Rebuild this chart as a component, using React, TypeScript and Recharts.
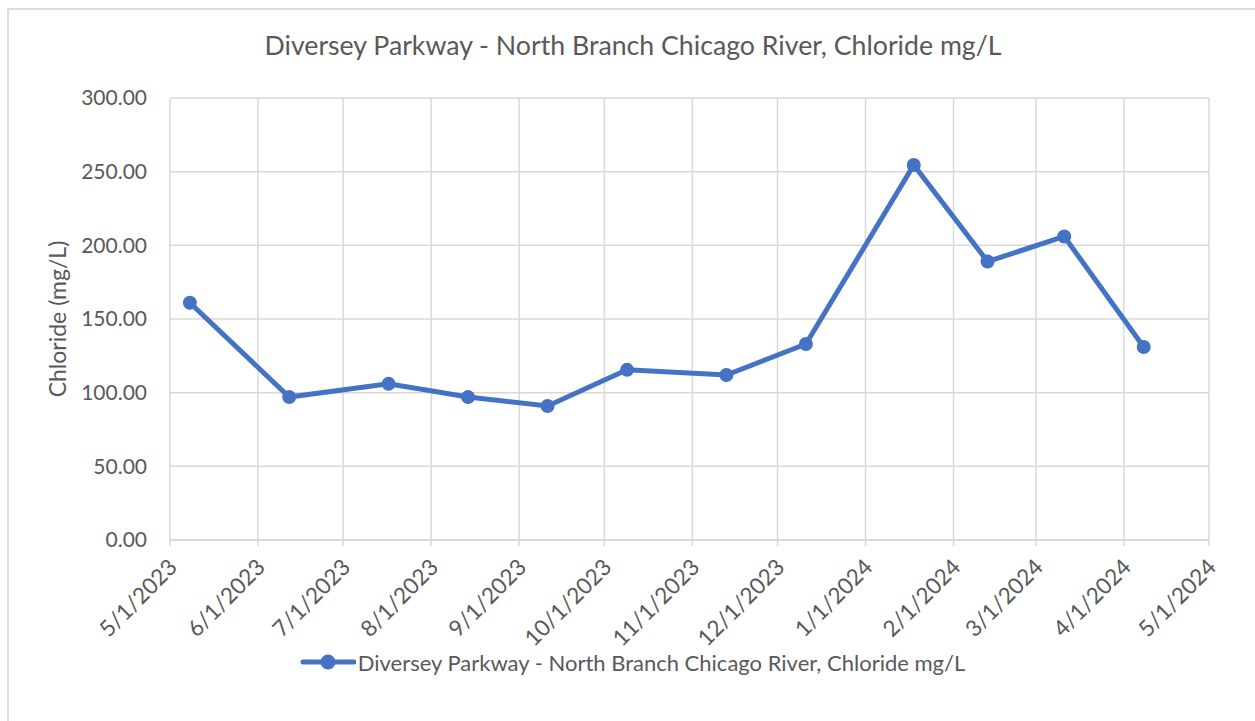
import { LineChart, Line, XAxis, YAxis, CartesianGrid, Legend } from 'recharts'

const title = 'Diversey Parkway - North Branch Chicago River, Chloride mg/L'
const yLabel = 'Chloride (mg/L)'

// sample dates and chloride values
const sampleDates = [
  '2023-05-08', '2023-06-12', '2023-07-17', '2023-08-14', '2023-09-11', '2023-10-09',
  '2023-11-13', '2023-12-11', '2024-01-18', '2024-02-13', '2024-03-11', '2024-04-08',
]
const chloride = [161, 97, 106, 97, 91, 115.5, 112, 133, 254.5, 189, 206, 131]

const monthTicks = [
  '2023-05-01', '2023-06-01', '2023-07-01', '2023-08-01', '2023-09-01', '2023-10-01', '2023-11-01',
  '2023-12-01', '2024-01-01', '2024-02-01', '2024-03-01', '2024-04-01', '2024-05-01',
]
const yTicks = [0, 50, 100, 150, 200, 250, 300]

const toTime = (s: string) => Date.parse(s + 'T00:00:00Z')
const data = sampleDates.map((d, i) => ({ t: toTime(d), v: chloride[i] }))
const xTicks = monthTicks.map(toTime)

const fmtDate = (t: number) => {
  const d = new Date(t)
  return `${d.getUTCMonth() + 1}/${d.getUTCDate()}/${d.getUTCFullYear()}`
}

const FONT = 'Lato, "Open Sans", sans-serif'
const TEXT = '#595959'
const BLUE = '#4472C4'
const GRID = '#d9d9d9'

const XTick = (props: any) => {
  const { x, y, payload } = props
  const ax = x + 3
  const ay = y + 15
  return (
    <text
      x={ax}
      y={ay}
      dy="0.35em"
      transform={`rotate(-45 ${ax} ${ay})`}
      textAnchor="end"
      fill={TEXT}
      fontSize={22.5}
      fontFamily={FONT}
    >
      {fmtDate(payload.value)}
    </text>
  )
}

const LegendContent = () => (
  <div style={{ display: 'flex', alignItems: 'center', justifyContent: 'center', height: 30, paddingLeft: 16 }}>
    <svg width={56} height={18} style={{ marginRight: 2 }}>
      <line x1={3} y1={9} x2={54} y2={9} stroke={BLUE} strokeWidth={5} strokeLinecap="round" />
      <circle cx={28} cy={9} r={7.5} fill={BLUE} />
    </svg>
    <span style={{ fontFamily: FONT, fontSize: 22, color: TEXT }}>{title}</span>
  </div>
)

export default function App() {
  return (
    <div style={{ position: 'absolute', left: 0, top: 0, width: 1255, height: 721, overflow: 'hidden', background: '#fff' }}>
      <div
        style={{
          position: 'absolute', left: 7, top: 8, width: 1300, height: 760,
          border: '2px solid #dedede', boxSizing: 'border-box',
        }}
      />
      <div
        style={{
          position: 'absolute', left: 7, top: 29, width: 1252, textAlign: 'center',
          fontFamily: FONT, fontSize: 26.7, color: TEXT,
        }}
      >
        {title}
      </div>
      <div style={{ position: 'absolute', left: 0, top: 0 }}>
        <LineChart width={1255} height={721} data={data} margin={{ top: 98, right: 46, left: 40, bottom: 44 }}>
          <CartesianGrid stroke={GRID} strokeWidth={1.5} />
          <XAxis
            dataKey="t"
            type="number"
            scale="time"
            domain={[xTicks[0], xTicks[xTicks.length - 1]]}
            ticks={xTicks}
            interval={0}
            height={107}
            stroke={GRID}
            strokeWidth={1.5}
            tickSize={6}
            tick={<XTick />}
          />
          <YAxis
            type="number"
            domain={[0, 300]}
            ticks={yTicks}
            width={130}
            axisLine={false}
            tickLine={false}
            tickSize={0}
            tickMargin={23}
            tickFormatter={(v: number) => v.toFixed(2)}
            tick={{ fill: TEXT, fontSize: 21, fontFamily: FONT }}
            label={{
              content: ({ viewBox }: any) => (
                <text
                  x={viewBox.x + 17}
                  y={viewBox.y + viewBox.height / 2}
                  transform={`rotate(-90 ${viewBox.x + 17} ${viewBox.y + viewBox.height / 2})`}
                  textAnchor="middle"
                  dominantBaseline="central"
                  fill={TEXT}
                  fontSize={23}
                  fontFamily={FONT}
                >
                  {yLabel}
                </text>
              ),
            }}
          />
          <Legend verticalAlign="bottom" align="center" content={<LegendContent />} />
          <Line
            type="linear"
            dataKey="v"
            name={title}
            stroke={BLUE}
            strokeWidth={5}
            dot={{ r: 7, fill: BLUE, stroke: BLUE, strokeWidth: 0 }}
            activeDot={false}
            isAnimationActive={false}
          />
        </LineChart>
      </div>
    </div>
  )
}
